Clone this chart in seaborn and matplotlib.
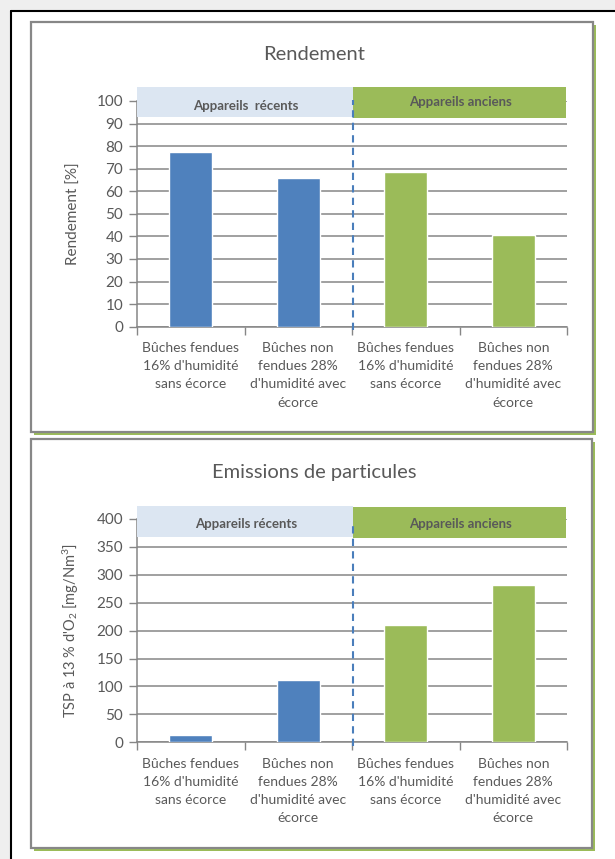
import numpy as np
import pandas as pd
import matplotlib
matplotlib.use("Agg")
import matplotlib.pyplot as plt
from matplotlib.patches import Rectangle
from matplotlib.lines import Line2D
import seaborn as sns

# ---------------- data ----------------
categories = [
    "Bûches fendues\n16% d'humidité\nsans écorce",
    "Bûches non\nfendues 28%\nd'humidité avec\nécorce",
    "Bûches fendues\n16% d'humidité\nsans écorce",
    "Bûches non\nfendues 28%\nd'humidité avec\nécorce",
]
groups = ["Appareils récents", "Appareils récents", "Appareils anciens", "Appareils anciens"]
rendement = [77.6, 65.7, 68.7, 40.6]
particules = [13, 111, 210, 281]

title1 = "Rendement"
title2 = "Emissions de particules"
ylabel1 = "Rendement [%]"
ylabel2 = "TSP à 13 % d'O$_2$ [mg/Nm$^3$]"
yticks1 = list(range(0, 101, 10))
yticks2 = list(range(0, 401, 50))

BLUE = "#4F81BD"
GREEN = "#9BBB59"
LIGHTBLUE = "#DCE6F2"
GRID = "#868686"
TXT = "#595959"
palette = {"Appareils récents": BLUE, "Appareils anciens": GREEN}

sns.set_theme(style="white")
plt.rcParams["font.family"] = ["Lato", "DejaVu Sans"]
plt.rcParams["mathtext.fontset"] = "custom"
plt.rcParams["mathtext.rm"] = "Lato"
plt.rcParams["mathtext.it"] = "Lato"

W, H = 615, 859
fig = plt.figure(figsize=(W / 100, H / 100), dpi=100)
fig.patch.set_facecolor("white")

def fx(px):
    return px / W

def fy(py):
    return 1 - py / H

# screenshot border (light gray margin + black line)
fig.patches.append(Rectangle((0, 0), fx(10), 1, transform=fig.transFigure,
                             facecolor="#EFEFEF", edgecolor="none", zorder=0))
fig.patches.append(Rectangle((0, fy(11)), 1, 11 / H, transform=fig.transFigure,
                             facecolor="#EFEFEF", edgecolor="none", zorder=0))
fig.lines.append(Line2D([fx(10.5), fx(10.5)], [0, fy(11)], transform=fig.transFigure,
                        color="black", lw=1.5, zorder=1))
fig.lines.append(Line2D([fx(10.5), 1], [fy(11), fy(11)], transform=fig.transFigure,
                        color="black", lw=1.5, zorder=1))

# chart frames with green shadow
def frame(x0, y0, x1, y1):
    fig.patches.append(Rectangle((fx(x0 + 3), fy(y1 + 3)), (x1 - x0) / W, (y1 - y0) / H,
                                 transform=fig.transFigure, facecolor=GREEN,
                                 edgecolor="none", zorder=1))
    fig.patches.append(Rectangle((fx(x0), fy(y1)), (x1 - x0) / W, (y1 - y0) / H,
                                 transform=fig.transFigure, facecolor="white",
                                 edgecolor="#878787", lw=1.6, zorder=2))

frame(31, 22, 592.5, 432)
frame(31, 439, 592, 848)


def make_chart(top_px, bot_px, values, ymax, yticks, ylabel, ylabel_size, title, title_y,
               band_lo, band_hi, band_lo_g, band_hi_g, rec_label, txt_rec_y, txt_anc_y):
    ax = fig.add_axes([fx(137), fy(bot_px), (567 - 137) / W, (bot_px - top_px) / H])
    ax.set_zorder(3)
    ax.patch.set_alpha(0)
    df = pd.DataFrame({"pos": np.arange(len(values)), "val": values, "grp": groups})
    sns.barplot(data=df, x="pos", y="val", hue="grp", palette=palette, dodge=False,
                width=0.4, legend=False, ax=ax, saturation=1, zorder=3)
    ax.set_xlim(-0.5, 3.5)
    ax.set_ylim(0, ymax)
    ax.set_yticks(yticks)
    ax.set_yticklabels([str(t) for t in yticks], fontsize=11, color=TXT)
    ax.yaxis.grid(True, color=GRID, lw=1.1)
    ax.set_axisbelow(True)
    ax.set_xticks([-0.5, 0.5, 1.5, 2.5, 3.5])
    ax.set_xticklabels([])
    ax.set_xticks(np.arange(4), minor=True)
    ax.set_xticklabels(categories, minor=True, fontsize=10, color=TXT, linespacing=1.62,
                       va="top")
    ax.tick_params(axis="x", which="major", length=6, width=1, color=GRID, direction="out",
                   bottom=True)
    ax.tick_params(axis="x", which="minor", length=0, pad=11)
    ax.tick_params(axis="y", length=6, width=1, color=GRID, direction="out", left=True, pad=4)
    for s in ["top", "right"]:
        ax.spines[s].set_visible(False)
    for s in ["left", "bottom"]:
        ax.spines[s].set_color(GRID)
        ax.spines[s].set_linewidth(1.1)
    ax.set_xlabel("")
    ax.set_ylabel(ylabel, fontsize=ylabel_size, color=TXT)
    ax.yaxis.set_label_coords(-0.13, 0.5)

    # group bands
    ax.add_patch(Rectangle((-0.5, band_lo), 2.01, band_hi - band_lo, facecolor=LIGHTBLUE,
                           edgecolor="none", clip_on=False, zorder=4))
    ax.add_patch(Rectangle((1.51, band_lo_g), 1.98, band_hi_g - band_lo_g, facecolor=GREEN,
                           edgecolor="none", clip_on=False, zorder=4))
    fig.text(fx(246), fy(txt_rec_y), rec_label, ha="center", va="center", fontsize=9.5,
             fontweight="bold", color=TXT, zorder=10)
    fig.text(fx(460), fy(txt_anc_y), "Appareils anciens", ha="center", va="center",
             fontsize=9.5, fontweight="bold", color=TXT, zorder=10)
    # dashed separator
    ax.plot([1.51, 1.51], [-0.015 * ymax, band_hi_g - 0.06 * ymax], ls=(0, (3.5, 2.5)),
            color="#4A7EBB", lw=1.5, clip_on=False, zorder=5)
    fig.text(fx(314), fy(title_y), title, ha="center", va="center", fontsize=14.5,
             color=TXT, zorder=10)
    return ax


make_chart(101, 326.7, rendement, 100, yticks1, ylabel1, 11, title1, 55,
           92.9, 106.3, 92.6, 106.3, "Appareils  récents", 106, 102)
make_chart(519, 742.3, particules, 400, yticks2, ylabel2, 10.5, title2, 473,
           368, 423, 366.5, 421, "Appareils récents", 524.5, 523.5)

fig.savefig("out.png", dpi=100)
